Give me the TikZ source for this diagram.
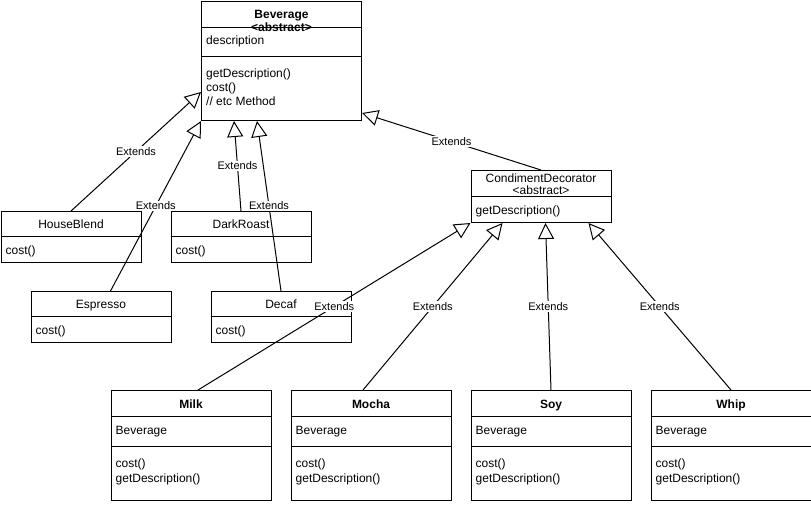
\documentclass[tikz,border=0pt]{standalone}
\usepackage{fontspec}
\setmainfont{Liberation Sans}
\usetikzlibrary{arrows.meta,calc}

\tikzset{
  classbox/.style={draw=black, line width=1pt, rectangle, inner sep=0pt, anchor=north west},
  txt/.style={inner sep=0pt, font=\fontsize{12}{14}\selectfont},
  ctxt/.style={txt, anchor=base},
  ltxt/.style={txt, anchor=base west},
  divider/.style={line width=1pt},
  extends/.style={line width=1pt, -{Triangle[open, length=16pt, width=16pt, line width=1pt]}},
  lbl/.style={fill=white, inner sep=1pt, font=\fontsize{11}{13}\selectfont}
}

\begin{document}
\begin{tikzpicture}[x=1pt, y=-1pt]
\useasboundingbox (0,0) rectangle (811,504);

% ---- Beverage (abstract base) ----
\node[classbox, minimum width=160pt, minimum height=119pt] (bev) at (201,1) {};
\draw[divider] ($(bev.north west)+(0,26)$) -- ($(bev.north east)+(0,26)$);
\draw[divider] ($(bev.north west)+(0,55)$) -- ($(bev.north east)+(0,55)$);
\node[ctxt, font=\fontsize{12}{14}\selectfont\bfseries] (bevname) at ($(bev.north)+(0,17)$) {Beverage};
\node[ctxt, font=\fontsize{12}{14}\selectfont\bfseries] (bevabs) at ($(bev.north)+(0,30)$) {<abstract>};
\node[ltxt] (bevattr) at ($(bev.north west)+(5,43)$) {description};
\node[ltxt] (bevm1) at ($(bev.north west)+(5,76)$) {getDescription()};
\node[ltxt] (bevm2) at ($(bev.north west)+(5,90)$) {cost()};
\node[ltxt] (bevm3) at ($(bev.north west)+(5,104)$) {// etc Method};

% ---- concrete beverages ----
\foreach \nm/\lab/\x/\y in {hb/HouseBlend/0.5/211, dr/DarkRoast/170.5/211, esp/Espresso/30.5/291, dec/Decaf/210.5/291}{
  \node[classbox, minimum width=140pt, minimum height=51pt] (\nm) at (\x,\y) {};
  \draw[divider] ($(\nm.north west)+(0,25)$) -- ($(\nm.north east)+(0,25)$);
  \node[ctxt] (\nm-name) at ($(\nm.north)+(0,17)$) {\lab};
  \node[ltxt] (\nm-m) at ($(\nm.north west)+(5,43)$) {cost()};
}

% ---- CondimentDecorator (abstract decorator) ----
\node[classbox, minimum width=140pt, minimum height=52pt] (cd) at (470.5,170) {};
\draw[divider] ($(cd.north west)+(0,26)$) -- ($(cd.north east)+(0,26)$);
\node[ctxt] (cdname) at ($(cd.north)+(0,12)$) {CondimentDecorator};
\node[ctxt] (cdabs) at ($(cd.north)+(0,24)$) {<abstract>};
\node[ltxt] (cdm) at ($(cd.north west)+(5,44)$) {getDescription()};

% ---- condiments ----
\foreach \nm/\lab/\x in {milk/Milk/110.5, mocha/Mocha/290.5, soy/Soy/470.5, whip/Whip/650.5}{
  \node[classbox, minimum width=160pt, minimum height=110pt] (\nm) at (\x,390) {};
  \draw[divider] ($(\nm.north west)+(0,26)$) -- ($(\nm.north east)+(0,26)$);
  \draw[divider] ($(\nm.north west)+(0,56)$) -- ($(\nm.north east)+(0,56)$);
  \node[ctxt, font=\fontsize{12}{14}\selectfont\bfseries] (\nm-name) at ($(\nm.north)+(0,18)$) {\lab};
  \node[ltxt] (\nm-attr) at ($(\nm.north west)+(5,44)$) {Beverage};
  \node[ltxt] (\nm-m1) at ($(\nm.north west)+(5,77)$) {cost()};
  \node[ltxt] (\nm-m2) at ($(\nm.north west)+(5,92)$) {getDescription()};
}

% ---- generalisation edges ----
\draw[extends] (hb.north) -- node[lbl, midway] {Extends} ($(bev.north west)+(0,91)$);
\draw[extends] ($(esp.north west)+(80,0)$) -- node[lbl, midway] {Extends} (bev.south west);
\draw[extends] (dr.north) -- node[lbl, midway] {Extends} ($(bev.south west)+(33,0)$);
\draw[extends] (dec.north) -- node[lbl, midway] {Extends} ($(bev.south west)+(56,0)$);
\draw[extends] (cd.north) -- node[lbl, midway] {Extends} ($(bev.north east)+(0,112)$);

\draw[extends] ($(milk.north)+(7,0)$) -- node[lbl, midway] {Extends} (cd.south west);
\draw[extends] ($(mocha.north)+(-8,0)$) -- node[lbl, midway] {Extends} ($(cd.south west)+(32,0)$);
\draw[extends] (soy.north) -- node[lbl, midway] {Extends} ($(cd.south west)+(75,0)$);
\draw[extends] (whip.north) -- node[lbl, midway] {Extends} ($(cd.south west)+(118,0)$);
\end{tikzpicture}
\end{document}
